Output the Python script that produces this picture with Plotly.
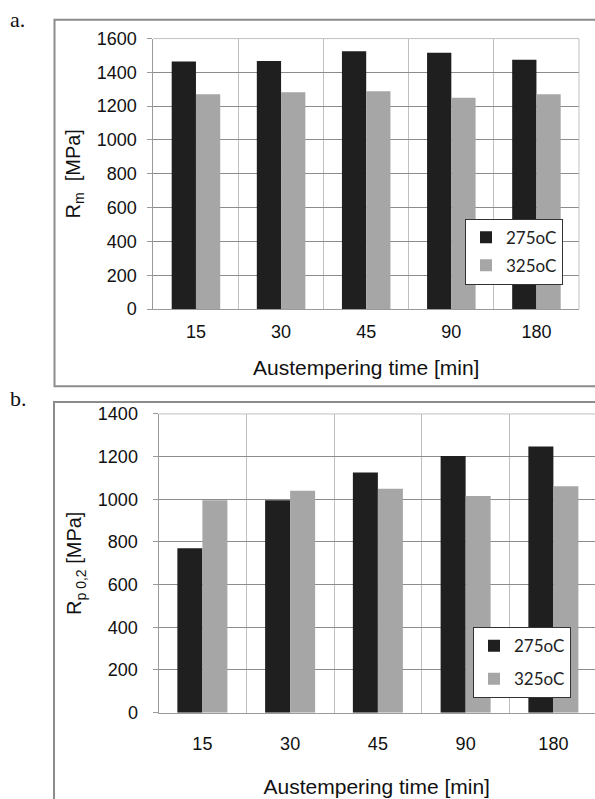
import plotly.graph_objects as go

W, H = 595, 799

categories = ["15", "30", "45", "90", "180"]
series_names = ["275oC", "325oC"]
rm_275 = [1464, 1468, 1525, 1516, 1475]
rm_325 = [1271, 1283, 1289, 1250, 1271]
rp_275 = [771, 995, 1125, 1203, 1247]
rp_325 = [995, 1040, 1049, 1015, 1061]
rm_ticks = [0, 200, 400, 600, 800, 1000, 1200, 1400, 1600]
rp_ticks = [0, 200, 400, 600, 800, 1000, 1200, 1400]

C_DARK = "#1f1f1f"
C_GRAY = "#a6a6a6"
FONT = "Liberation Sans, Arial, sans-serif"


def px(x):
    return x / W


def py(y):
    return 1 - y / H


fig = go.Figure()

fig.add_trace(go.Bar(x=categories, y=rm_275, name=series_names[0], marker=dict(color=C_DARK, line=dict(width=0)),
                     xaxis="x", yaxis="y", legend="legend", legendgroup="a1"))
fig.add_trace(go.Bar(x=categories, y=rm_325, name=series_names[1], marker=dict(color=C_GRAY, line=dict(width=0)),
                     xaxis="x", yaxis="y", legend="legend", legendgroup="a2"))
fig.add_trace(go.Bar(x=categories, y=rp_275, name=series_names[0], marker=dict(color=C_DARK, line=dict(width=0)),
                     xaxis="x2", yaxis="y2", legend="legend2", legendgroup="b1"))
fig.add_trace(go.Bar(x=categories, y=rp_325, name=series_names[1], marker=dict(color=C_GRAY, line=dict(width=0)),
                     xaxis="x2", yaxis="y2", legend="legend2", legendgroup="b2"))

xcommon = dict(type="category", tickson="boundaries", showgrid=True, gridcolor="#c0c0c0", gridwidth=1,
               showline=True, linecolor="#9a9a9a", linewidth=1, ticks="", zeroline=False,
               tickfont=dict(family=FONT, size=18, color="#111"),
               fixedrange=True)
ycommon = dict(showgrid=True, gridcolor="#8c8c8c", gridwidth=1, showline=True, linecolor="#9a9a9a",
               linewidth=1, ticks="outside", ticklen=5, tickcolor="#9a9a9a", zeroline=False,
               tickfont=dict(family=FONT, size=18, color="#111"), fixedrange=True)

top_left, top_right = 153.4, 579.0
bot_left = 158.5
cat_w_bot = 87.75

fig.update_layout(
    width=W, height=H,
    margin=dict(l=0, r=0, t=0, b=0),
    paper_bgcolor="white", plot_bgcolor="white",
    barmode="group", bargap=0.43, bargroupgap=0,
    showlegend=True,
    xaxis=dict(xcommon, domain=[px(top_left), px(top_right)], anchor="y", range=[-0.5, 4.5],
               ticklabelstandoff=6,
               title=dict(text="Austempering time [min]", font=dict(family=FONT, size=21, color="#111"),
                          standoff=19)),
    yaxis=dict(ycommon, domain=[py(306.7), py(29.3)], anchor="x", range=[0, 1600], tickvals=rm_ticks,
               ticklabelstandoff=7,
               title=dict(text="R<sub>m</sub>  [MPa]", font=dict(family=FONT, size=20, color="#111"),
                          standoff=10)),
    xaxis2=dict(xcommon, domain=[px(bot_left), 1.0], anchor="y2",
                range=[-0.5, -0.5 + (W - bot_left) / cat_w_bot],
                ticklabelstandoff=15,
                title=dict(text="Austempering time [min]", font=dict(family=FONT, size=21, color="#111"),
                           standoff=26)),
    yaxis2=dict(ycommon, domain=[py(720.7), py(414.3)], anchor="x2", range=[0, 1400], tickvals=rp_ticks,
                ticklabelstandoff=11,
                title=dict(text="R<sub>p 0,2</sub> [MPa]", font=dict(family=FONT, size=20, color="#111"),
                           standoff=10)),
    legend=dict(x=px(465), y=py(214), xanchor="left", yanchor="top", bgcolor="white",
                bordercolor="#333", borderwidth=1, traceorder="grouped", tracegroupgap=3,
                font=dict(family="Lato, sans-serif", size=17, color="#222")),
    legend2=dict(x=px(473), y=py(633), xanchor="left", yanchor="top", bgcolor="white",
                 bordercolor="#333", borderwidth=1, traceorder="grouped", tracegroupgap=8,
                 font=dict(family="Lato, sans-serif", size=17, color="#222")),
    shapes=[
        # outer frames
        dict(type="rect", xref="paper", yref="paper", x0=px(54.5), x1=px(610), y0=py(386), y1=py(10),
             line=dict(color="#8c8c8c", width=2), fillcolor="rgba(0,0,0,0)", layer="below"),
        dict(type="rect", xref="paper", yref="paper", x0=px(54), x1=px(610), y0=py(820), y1=py(402),
             line=dict(color="#8c8c8c", width=2), fillcolor="rgba(0,0,0,0)", layer="below"),
        # plot-area borders (top and right) in light gray
        dict(type="line", xref="x domain", yref="y domain", x0=0, x1=1, y0=1, y1=1,
             line=dict(color="#c0c0c0", width=1), layer="above"),
        dict(type="line", xref="x domain", yref="y domain", x0=1, x1=1, y0=0, y1=1,
             line=dict(color="#c0c0c0", width=1), layer="above"),
        dict(type="line", xref="x2 domain", yref="y2 domain", x0=0, x1=1, y0=1, y1=1,
             line=dict(color="#c0c0c0", width=1), layer="above"),
    ],
    annotations=[
        dict(text="a.", xref="paper", yref="paper", x=px(8), y=py(10), xanchor="left", yanchor="middle",
             showarrow=False, font=dict(family="Liberation Serif, Times New Roman, serif", size=22, color="#111")),
        dict(text="b.", xref="paper", yref="paper", x=px(8), y=py(398), xanchor="left", yanchor="middle",
             showarrow=False, font=dict(family="Liberation Serif, Times New Roman, serif", size=22, color="#111")),
    ],
)

fig.write_html("out.html")
